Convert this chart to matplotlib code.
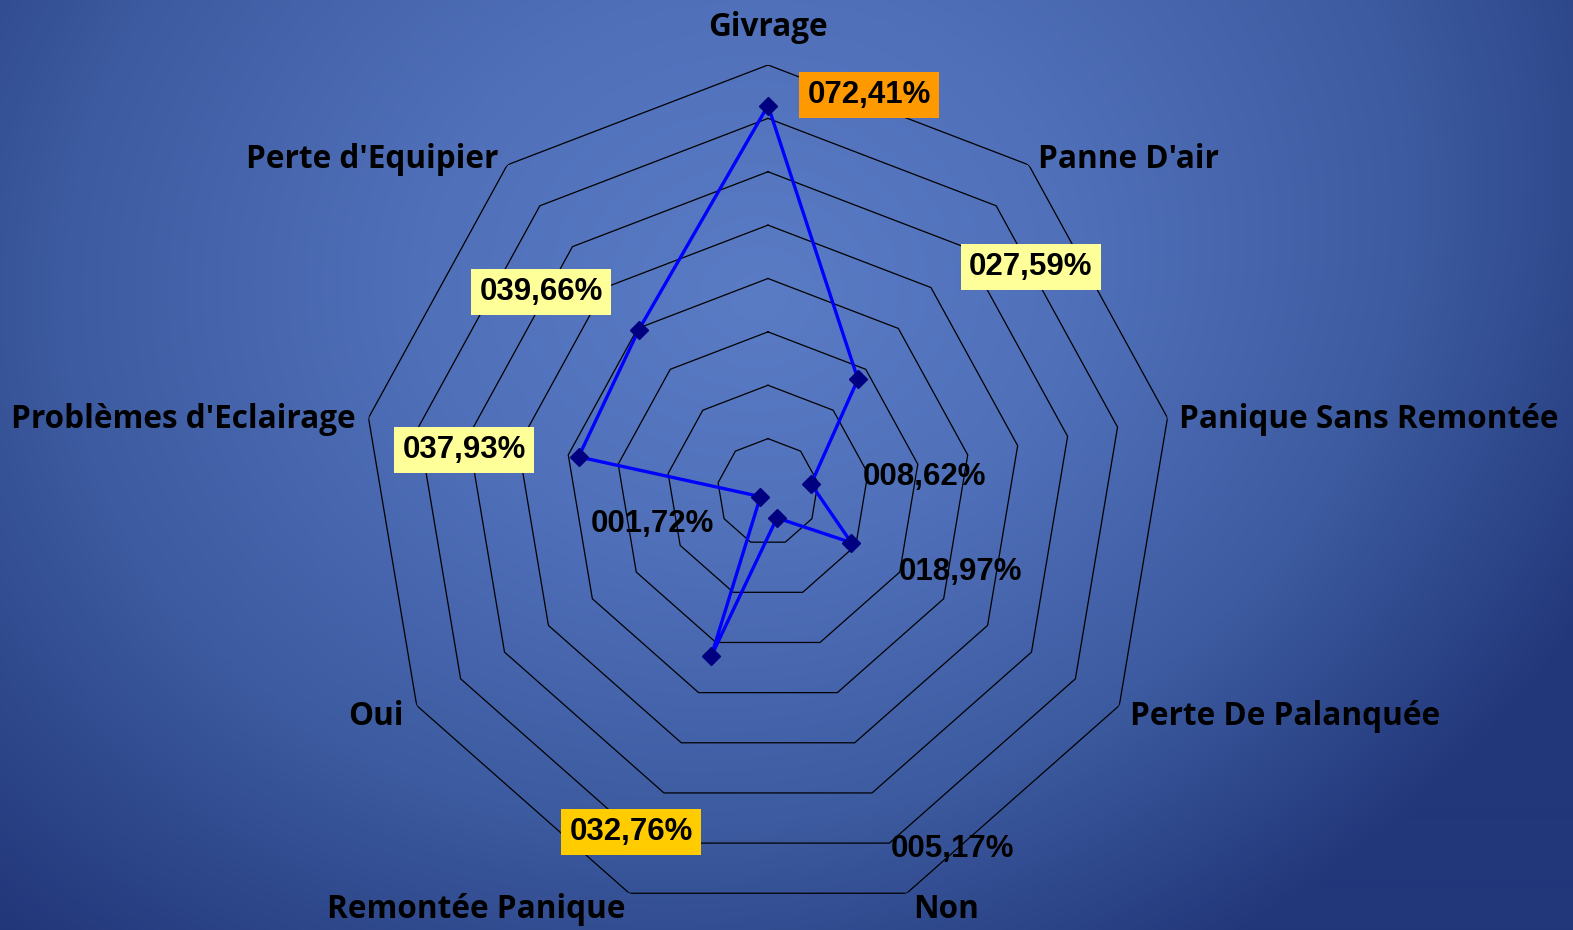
import numpy as np
import matplotlib
matplotlib.use("Agg")
import matplotlib.pyplot as plt
from matplotlib.colors import LinearSegmentedColormap

categories = ["Givrage", "Panne D'air", "Panique Sans Remontée", "Perte De Palanquée",
              "Non", "Remontée Panique", "Oui", "Problèmes d'Eclairage", "Perte d'Equipier"]
values = [72.41, 27.59, 8.62, 18.97, 5.17, 32.76, 1.72, 37.93, 39.66]
ring_levels = [10, 20, 30, 40, 50, 60, 70, 80]

# label box colours (None = no box)
box_colors = ["#FF9900", "#FFFF99", None, None, None, "#FFCC00", None, "#FFFF99", "#FFFF99"]

# pixel positions (centre) of category labels and value labels
cat_pos = [(768, 28), (1128, 159), (1369, 419), (1285, 716), (946, 909),
           (476, 909), (376, 716), (183, 419), (372, 159)]
val_pos = [(869, 95), (1031, 267), (925, 477), (960, 572), (952, 849),
           (631, 832), (652, 524), (464, 450), (541, 292)]

W, H = 1573, 930
fig = plt.figure(figsize=(W / 100, H / 100), dpi=100)

def px(x, y):
    return x / W, 1 - y / H

# background gradient
bg = fig.add_axes([0, 0, 1, 1])
yy, xx = np.mgrid[0:H, 0:W]
d = np.sqrt(((xx - 760) / 1050.0) ** 2 + ((yy - 300) / 900.0) ** 2)
d = d + 0.2 * (xx / W) * (yy / H)
d = np.clip(d, 0, 1)
cmap = LinearSegmentedColormap.from_list("bg", ["#5b7dc6", "#5070ba", "#3d5ba0", "#22377a"])
bg.imshow(d, cmap=cmap, aspect="auto", extent=[0, 1, 0, 1], vmin=0, vmax=1)
bg.set_axis_off()

# radar axes (slightly narrower than tall, like the original)
cx, cy, rpx = 768, 492, 427
rx = rpx * 0.95
ax = fig.add_axes([(cx - rx) / W, (H - cy - rpx) / H, 2 * rx / W, 2 * rpx / H], projection="polar")
ax.set_aspect("auto")
ax.set_facecolor("none")
ax.set_theta_zero_location("N")
ax.set_theta_direction(-1)
ax.set_ylim(0, 80)
ax.grid(False)
ax.set_xticks([])
ax.set_yticks([])
ax.spines["polar"].set_visible(False)

n = len(categories)
theta = np.linspace(0, 2 * np.pi, n, endpoint=False)
theta_c = np.append(theta, theta[0])

for r in ring_levels:
    ax.plot(theta_c, [r] * (n + 1), color="black", lw=0.9)

vals_c = values + values[:1]
ax.plot(theta_c, vals_c, color="#0000FF", lw=2.4, zorder=3)
ax.plot(theta, values, ls="none", marker="D", ms=9, mfc="#000080", mec="#000080", zorder=4)

for name, (x, y) in zip(categories, cat_pos):
    fig.text(*px(x, y), name, ha="center", va="center", fontsize=22.7,
             fontweight="bold", family="Open Sans", color="black")

for v, c, (x, y) in zip(values, box_colors, val_pos):
    label = f"{v:06.2f}%".replace(".", ",")
    kw = {}
    if c:
        kw["bbox"] = dict(boxstyle="square,pad=0.27", fc=c, ec="none")
    fig.text(*px(x, y), label, ha="center", va="center", fontsize=22.5,
             fontweight="bold", family="Liberation Sans", color="black", **kw)

fig.savefig("out.png", dpi=100)
